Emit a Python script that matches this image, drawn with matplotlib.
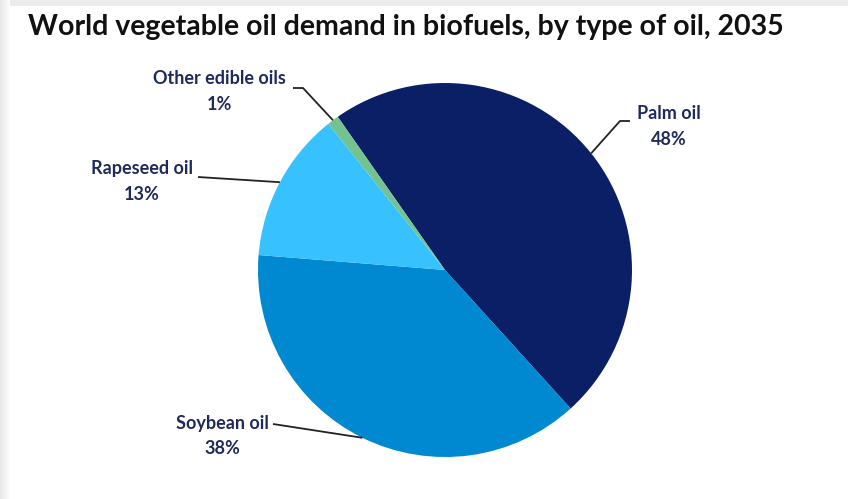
import numpy as np
import matplotlib
matplotlib.use("Agg")
import matplotlib.pyplot as plt
import matplotlib.patches as patches

# data
oils = ["Palm oil", "Soybean oil", "Rapeseed oil", "Other edible oils"]
shares = [48, 38, 13, 1]
colors = ["#0b1f66", "#0088d0", "#38c1ff", "#72c292"]

W, H = 848, 499
fig = plt.figure(figsize=(W / 100, H / 100), dpi=100)
fig.patch.set_facecolor("white")

# light gray frame at top / left like the screenshot
fig.patches.append(patches.Rectangle((0, 1 - 6 / H), 1, 6 / H, transform=fig.transFigure,
                                     facecolor="#ececec", edgecolor="none"))
for i in range(10):
    g = 0.91 + 0.009 * i
    fig.patches.append(patches.Rectangle((i / W, 0), 1 / W, 1, transform=fig.transFigure,
                                         facecolor=(g, g, g), edgecolor="none"))

ax = fig.add_axes([0, 0, 1, 1])

cx, cy, r = 445, H - 270, 187
wedges, _ = ax.pie(shares, colors=colors, startangle=125, counterclock=False,
                   center=(cx, cy), radius=r, frame=True,
                   wedgeprops=dict(linewidth=0))
ax.set_xlim(0, W)
ax.set_ylim(0, H)
ax.set_aspect("equal")
ax.axis("off")

fig.text(28 / W, 1 - 27 / H, "World vegetable oil demand in biofuels, by type of oil, 2035",
         fontsize=20.5, fontweight="bold", family="Lato", color="#111111",
         ha="left", va="center")

# label centre, line start, elbow (pixel coords from top)
label_pos = {
    "Palm oil": ((669, 113), (630, 121), (620, 121)),
    "Soybean oil": ((222, 423), (273, 424), (273, 424)),
    "Rapeseed oil": ((142, 168), (198, 177), (198, 177)),
    "Other edible oils": ((219, 78), (293, 88), (303, 88)),
}

for w, name, val in zip(wedges, oils, shares):
    mid = np.deg2rad((w.theta1 + w.theta2) / 2)
    ex, ey = cx + r * np.cos(mid), cy + r * np.sin(mid)
    (tx, ty), (sx, sy), (kx, ky) = label_pos[name]
    ax.text(tx, H - ty, name, ha="center", va="center", fontsize=13,
            fontweight="bold", family="Lato", color="#1f2a5c")
    ax.text(tx, H - ty - 26, f"{val}%", ha="center", va="center", fontsize=13,
            fontweight="bold", family="Lato", color="#1f2a5c")
    ax.plot([sx, kx, ex], [H - sy, H - ky, ey], color="#222222", lw=1.3,
            solid_capstyle="butt")

fig.savefig("out.png", dpi=100)
